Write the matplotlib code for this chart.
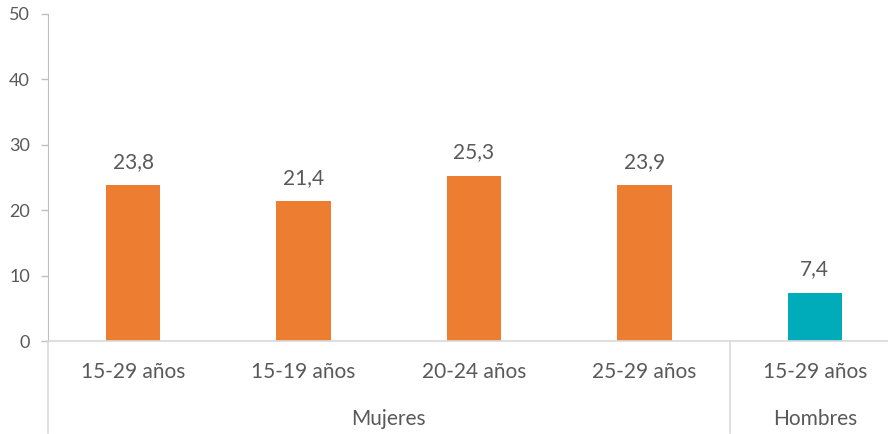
import numpy as np
import matplotlib.pyplot as plt

# Datos
edades = ["15-29 años", "15-19 años", "20-24 años", "25-29 años", "15-29 años"]
valores = [23.8, 21.4, 25.3, 23.9, 7.4]
grupos = ["Mujeres", "Hombres"]
n_por_grupo = [4, 1]
colores_grupo = ["#ED7D31", "#00ACBA"]

plt.rcParams['font.family'] = ['Lato', 'DejaVu Sans']
gris = "#595959"

fig = plt.figure(figsize=(8.88, 4.34), dpi=100)
# el eje sobresale un poco del borde derecho, como en el original
ax = fig.add_axes([48 / 888, (434 - 341) / 434, 852 / 888, 327 / 434])

x = np.arange(len(valores))
colores = [c for c, n in zip(colores_grupo, n_por_grupo) for _ in range(n)]
ax.bar(x, valores, width=0.32, color=colores, zorder=2)

for xi, v in zip(x, valores):
    ax.text(xi, v + 2.0, f"{v:.1f}".replace(".", ","), ha="center", va="bottom",
            fontsize=15, color=gris)

ax.set_xlim(-0.5, len(valores) - 0.5)
ax.set_ylim(0, 50)
ax.set_yticks(range(0, 51, 10))
ax.tick_params(axis="y", colors="#BFBFBF", labelcolor=gris, labelsize=13, length=5,
               width=1, pad=8)
ax.set_xticks(x)
ax.set_xticklabels(edades)
ax.tick_params(axis="x", length=0, labelsize=15, labelcolor=gris, pad=15)

for s in ["top", "right"]:
    ax.spines[s].set_visible(False)
ax.spines["left"].set_color("#BFBFBF")
ax.spines["bottom"].set_color("#D9D9D9")
ax.spines["bottom"].set_linewidth(1.2)

# separadores de grupos y etiquetas de grupo
trans = ax.get_xaxis_transform()
limites = np.cumsum([0] + n_por_grupo) - 0.5
for b in limites[:-1]:
    ax.plot([b, b], [0, -0.28], transform=trans, color="#D9D9D9", lw=1.2, clip_on=False)
for g, a, b in zip(grupos, limites[:-1], limites[1:]):
    ax.text((a + b) / 2, -0.24, g, transform=trans, ha="center", va="center",
            fontsize=15, color=gris)

plt.savefig("out.png", dpi=100)
